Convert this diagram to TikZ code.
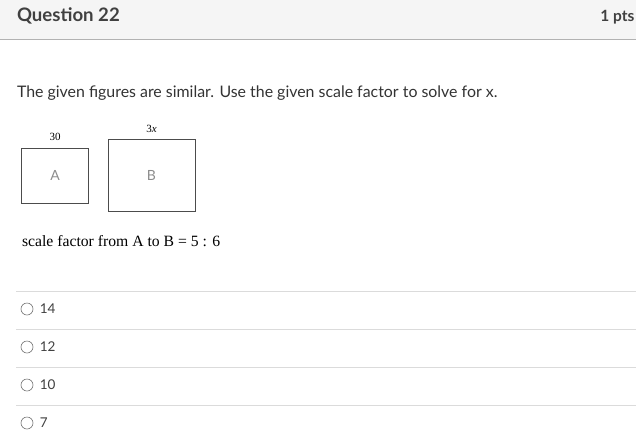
\documentclass[tikz,border=0pt]{standalone}
\usepackage{fontspec}
\setmainfont{Lato}
\newfontfamily\timesfont{Liberation Serif}
\usetikzlibrary{positioning}

\begin{document}
\begin{tikzpicture}[x=1pt,y=-1pt]
\tikzset{fig/.style = {draw=black!70,line width=.8pt,inner sep=0pt}}
\tikzset{letter/.style = {text=black!45,font=\fontsize{14}{16}\selectfont}}
\tikzset{dim/.style = {font=\timesfont\fontsize{11}{13}\selectfont}}
\tikzset{rule/.style = {draw=black!14,line width=.8pt}}
\tikzset{radio/.style = {shape=circle,draw=black!55,line width=.6pt,minimum size=12pt,inner sep=0pt}}
\tikzset{answer/.style = {anchor=west,text=black!75,font=\fontsize{13.5}{16}\selectfont}}

\useasboundingbox (0,0) rectangle (636,440);
\fill[black!4] (0,0) rectangle (636,39);
\draw[draw=black!30,line width=1pt] (0,39.5) -- (636,39.5);

\node[anchor=west,text=black!75,font=\bfseries\fontsize{18.6}{21}\selectfont] (title) at (13.5,16) {Question 22};
\node[anchor=east,text=black!75,font=\bfseries\fontsize{15.5}{18}\selectfont] (pts) at (638,17) {1 pts};

\node[anchor=west,text=black!80,font=\fontsize{15.9}{18}\selectfont] (prompt) at (13.5,93)
  {The given figures are similar. Use the given scale factor to solve for x.};

% the two rectangles
\node[fig,minimum width=67pt,minimum height=55pt] (A) at (55,175.5) {};
\node[fig,minimum width=87pt,minimum height=72pt] (B) at (151.5,175) {};
\node[letter] at (A.center) {A};
\node[letter] at (B.center) {B};
\node[dim] (sa) at (55,137) {30};
\node[dim] (sb) at (151.5,129) {3\textit{x}};

\node[anchor=west,font=\timesfont\fontsize{15.7}{18}\selectfont] (ratio) at (18.5,241)
  {scale factor from A to B = 5 : 6};

% answers
\foreach \v [count=\i] in {14,12,10,7} {
  \coordinate (l\i) at (16,{291+38*(\i-1)});
  \coordinate (r\i) at (636,{291+38*(\i-1)});
  \draw[rule] (l\i) -- (r\i);
  \node[radio] (o\i) at (27,{309+38*(\i-1)}) {};
  \node[answer,right=3pt of o\i] (t\i) {\v};
}

\end{tikzpicture}
\end{document}
